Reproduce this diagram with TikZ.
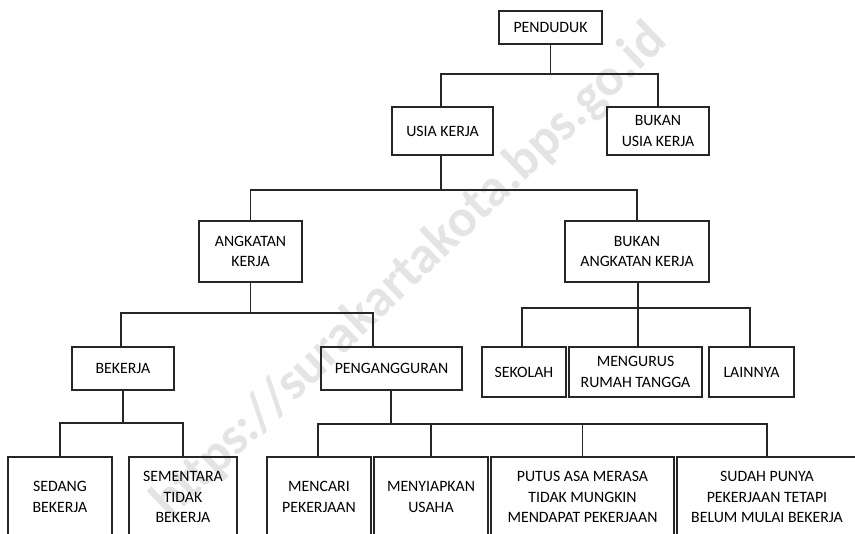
\documentclass[tikz,border=0pt]{standalone}
\usepackage{fontspec}
\setmainfont{Carlito}
\begin{document}
\begin{tikzpicture}[x=1pt,y=-1pt,
  box/.style={draw=linec, line width=1.3pt, rectangle, align=center, inner sep=0pt,
    font=\fontsize{15.8}{20.5}\selectfont, text=black},
  conn/.style={draw=linec, line width=1.3pt}]
\definecolor{linec}{HTML}{262626}
\definecolor{wmark}{HTML}{E4E4E4}
\useasboundingbox (0,0) rectangle (855,534);
\clip (0,0) rectangle (855,534);
% watermark
\node[text=wmark, rotate=43.8, font=\fontsize{53}{53}\selectfont\bfseries, inner sep=0pt] (wm) at (410,272) {https://surakartakota.bps.go.id};
% boxes
\node[box, minimum width=103, minimum height=33] (pend) at (550.5,27.5) {PENDUDUK};
\node[box, minimum width=101, minimum height=48] (usia) at (442.5,131) {USIA KERJA};
\node[box, minimum width=102, minimum height=48] (busia) at (658,131) {BUKAN\\USIA KERJA};
\node[box, minimum width=103, minimum height=61] (ak) at (250.5,251.5) {ANGKATAN\\KERJA};
\node[box, minimum width=144, minimum height=61] (bak) at (637,251.5) {BUKAN\\ANGKATAN KERJA};
\node[box, minimum width=102, minimum height=43] (bek) at (123,368.5) {BEKERJA};
\node[box, minimum width=141, minimum height=43] (peng) at (391.5,368.5) {PENGANGGURAN};
\node[box, minimum width=84, minimum height=50] (sek) at (524,372) {SEKOLAH};
\node[box, minimum width=133, minimum height=50] (mrt) at (635.5,372) {MENGURUS\\RUMAH TANGGA};
\node[box, minimum width=85, minimum height=50] (lain) at (751.5,372) {LAINNYA};
\node[box, minimum width=104, minimum height=80] (sedang) at (60,497) {SEDANG\\BEKERJA};
\node[box, minimum width=108, minimum height=80] (smt) at (183,497) {SEMENTARA\\TIDAK\\BEKERJA};
\node[box, minimum width=104, minimum height=80] (cari) at (319,497) {MENCARI\\PEKERJAAN};
\node[box, minimum width=114, minimum height=80] (siap) at (431,497) {MENYIAPKAN\\USAHA};
\node[box, minimum width=183, minimum height=80] (putus) at (582.5,497) {PUTUS ASA MERASA\\TIDAK MUNGKIN\\MENDAPAT PEKERJAAN};
\node[box, minimum width=180, minimum height=80] (sudah) at (767,497) {SUDAH PUNYA\\PEKERJAAN TETAPI\\BELUM MULAI BEKERJA};
% junctions
\coordinate (j1) at (550.5,74);
\coordinate (j2) at (441,190);
\coordinate (j3) at (250.5,313);
\coordinate (j4) at (638,308);
\coordinate (j5) at (123,423);
\coordinate (j6) at (391,424);
\coordinate (pengtop) at (373,347);
% connectors
\draw[conn] (pend.south) -- (j1);
\draw[conn] (j1) -| (busia.north);
\draw[conn] (j1) -| (usia.north -| j2);
\draw[conn] (usia.south -| j2) -- (j2);
\draw[conn] (ak.north) |- (j2) -| (bak.north);
\draw[conn] (ak.south) -- (j3);
\draw[conn] ([xshift=-2pt]bek.north) |- (j3) -| (pengtop);
\draw[conn] (bak.south -| j4) -- (j4);
\draw[conn] ([xshift=-2pt]sek.north) |- (j4) -| ([xshift=-1.5pt]lain.north);
\draw[conn] (j4) -- (mrt.north -| j4);
\draw[conn] (bek.south) -- (j5);
\draw[conn] (sedang.north) |- (j5) -| (smt.north);
\draw[conn] (peng.south -| j6) -- (j6);
\draw[conn] ([xshift=-1pt]cari.north) |- (j6) -| (sudah.north);
\draw[conn] (siap.north |- j6) -- (siap.north);
\draw[conn] (putus.north |- j6) -- (putus.north);
\end{tikzpicture}
\end{document}
